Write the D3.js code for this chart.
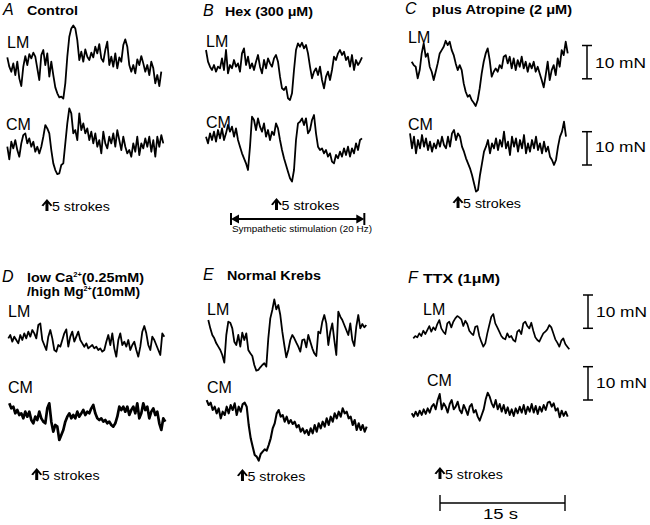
<!DOCTYPE html>
<html>
<head>
<meta charset="utf-8">
<script src="https://cdn.jsdelivr.net/npm/d3@7"></script>
<style>
  body { margin: 0; background: #fff; }
  text { font-family: "Liberation Sans", Arial, sans-serif; fill: #000; }
</style>
</head>
<body>
<svg id="fig" width="650" height="525"></svg>
<script>
const dt = 0.24;

// tension traces, mN above each trace's lowest point
const aLM = [12.8, 10, 8.5, 11, 7.5, 11.5, 6.5, 4.2, 10, 13.2,
  10.5, 13.8, 12.5, 14.2, 13, 9.5, 6, 13.5, 15, 10.5,
  14, 7, 11.5, 7.5, 3.8, 2, 0.8, 1, 0.4, 5,
  13, 19, 21.5, 22.4, 21.5, 18, 12, 14.5, 11.5, 15.2,
  13, 12, 14.2, 12.8, 16, 14, 16.8, 12.5, 11.5, 15,
  17.5, 10.5, 13, 10, 14, 9.5, 12.8, 11.5, 16.5, 18.2,
  16, 10.5, 8.5, 10.5, 8, 12.2, 10.5, 13.2, 11, 8.5,
  10.5, 7.5, 11.5, 9.5, 5, 7.5, 4.2, 8.5];
const aCM = [9, 5.2, 10.5, 8.5, 11, 8, 6, 10, 12.5, 13,
  10, 11.5, 9, 10.5, 7.5, 9, 7, 9, 12, 15.5,
  14.5, 13, 8, 4, 2, 0.8, 1, 3.5, 4, 10,
  16, 20.5, 19, 13, 14, 11, 19, 14, 16, 13,
  14.5, 11, 13.5, 10, 13, 9, 11, 7, 13.5, 10,
  8.5, 12, 10, 13, 9, 14, 11, 8, 12, 9,
  7, 8, 6, 10, 7.5, 12, 6.5, 10, 8.5, 11.5,
  9, 12, 7.5, 11, 6, 12, 9, 12.5, 10];
const bLM = [16, 12.5, 11, 10, 11.5, 9.5, 11, 10.5, 13.5, 10,
  16, 9, 11.5, 10.5, 13, 11, 12, 9.5, 15, 16.5,
  11.5, 14, 10.5, 12, 10, 12.5, 14.5, 11, 9, 13,
  10.5, 13.5, 12, 11, 13.5, 14.5, 12.5, 8, 4.5, 4,
  5, 1.5, 1, 3, 10, 16, 18, 17, 18.2, 16.5,
  17.5, 15, 11, 7.5, 9.5, 10.5, 8.5, 11, 7, 4.5,
  8, 9.5, 7, 10, 14, 13, 15, 16, 14.5, 15.5,
  13, 14, 11, 14.5, 10, 13, 11.5, 12.5, 13.8];
const bCM = [14, 12, 15, 13, 15.5, 12.5, 16, 13.5, 16.5, 13,
  15, 17.5, 15.5, 17, 14, 16.5, 13, 11, 9, 7.5,
  6, 4, 11, 20, 19, 16, 19.5, 17, 15.5, 18,
  14, 16, 13, 15.5, 14.5, 18, 16.5, 13, 10, 7.5,
  5.5, 3.5, 1.5, 0.5, 4, 13, 18, 18.5, 19.5, 17.5,
  19.5, 15, 16, 19, 20.5, 15, 11, 10, 10.5, 9,
  10, 8, 9, 6.5, 6, 8.5, 7.5, 9.5, 8, 10.5,
  8.5, 11, 8, 10.5, 9, 12, 10, 13, 13.5];
const cLM = [13.5, 12.5, 12, 8.5, 11, 16, 19, 15, 16, 12,
  10.5, 8, 10.5, 13, 16, 17, 18, 19.8, 18.5, 19.5,
  17, 15.5, 13, 11, 12.5, 11, 7, 4.5, 3, 3.5,
  2, 1.2, 0.2, 2, 5.5, 10, 13.5, 16, 17.5, 14,
  9, 10.5, 11.5, 10.5, 12.5, 11.5, 15, 15.5, 13, 15,
  11.5, 14.5, 11, 14, 12, 15, 11.5, 13.5, 10.5, 13,
  11.5, 13.5, 10.5, 12, 10, 8, 5.8, 9.5, 13.5, 8,
  11, 12.5, 9.5, 14.5, 12, 17, 15.5, 19.5, 16];
const cCM = [18, 13.5, 17, 12, 16, 13.5, 17.5, 14, 16.5, 13,
  15.5, 12.5, 15, 13.5, 16, 14, 17, 14.5, 13.5, 17,
  14, 18, 19, 16, 18, 17, 14, 12.5, 10.5, 9,
  7.5, 5.5, 3, 0.5, 1, 5.5, 9, 12.5, 14, 16,
  12, 15, 13.5, 16.5, 13, 16, 14, 18.5, 13.5, 15.5,
  11.5, 17, 14, 16.5, 12.5, 16, 13.5, 17.5, 12, 15,
  12.5, 16, 13.5, 17, 13, 15, 12, 15.5, 12.5, 14,
  11, 10, 8.5, 10, 14, 17, 18.5, 21.5, 17];
const dLM = [6.5, 7.5, 5.5, 7, 6, 5, 7.5, 6, 8, 6.5,
  8.5, 7, 9, 8, 6.5, 10.5, 11, 6, 4.5, 3,
  7, 9, 6.5, 3, 2.5, 4.5, 4, 6, 8, 9.2,
  4, 7, 8.5, 5.5, 7, 8.5, 6, 5, 4, 5,
  3.5, 4, 4.5, 3.5, 4, 3, 3.5, 2.5, 3, 5.5,
  7.5, 4.5, 8, 3.5, 1, 6, 8, 4.5, 5.5, 4,
  6, 3, 4.5, 5.5, 3, 1, 4, 8.5, 10.2, 8,
  4.5, 3, 7, 6, 4.5, 3, 1.5, 8, 7];
const dCM = [12, 10.5, 11, 9, 10, 8.5, 9, 7.5, 9.5, 8,
  9.5, 7, 6, 8, 7, 9.5, 7.5, 6.5, 6, 10.5,
  12, 6.5, 3.5, 5.5, 5, 1, 2.5, 4, 6.5, 8,
  9, 7.5, 8.5, 7.5, 9.5, 8, 9, 10, 8.5, 9.5,
  9, 10.5, 11.5, 9, 7.5, 7, 7.5, 6.5, 7, 6,
  6.5, 5.5, 5, 6, 8, 11, 10, 11, 9.5, 11,
  8.5, 10, 11, 9, 12, 7.5, 9, 12, 10, 11,
  7.5, 9.5, 10.5, 8.5, 9.5, 6, 4, 7.5, 6.5];
const eLM = [16, 13.5, 11.5, 10.5, 9, 8, 7, 5.5, 3.2, 11.5,
  15.5, 15.2, 13.5, 9.5, 8.5, 11.5, 8, 12.2, 10, 12,
  7, 6, 5.2, 2.5, 0.8, 1, 1.8, 2.5, 3, 2,
  10.5, 16.5, 19, 22.2, 19.2, 20.5, 17.5, 12.5, 8.5, 4.8,
  7, 10, 11.5, 10.5, 9.2, 8, 6.5, 10, 10.2, 7.8,
  11.5, 9.5, 7.5, 6, 5.2, 12.5, 12, 15.5, 17.5, 15,
  8.5, 12.5, 15, 10, 5.5, 18.5, 17, 16, 14.5, 13,
  11.5, 15, 10, 8.2, 14, 17.5, 13.5, 14.8, 13.8, 14.5];
const eCM = [19, 17.5, 18.2, 16, 17, 15, 16.5, 13.5, 15.5, 14.5,
  17, 15, 17.5, 16, 18, 14.5, 17, 15.5, 17.8, 18.2,
  17, 11.5, 7.5, 5, 2.5, 2, 0.8, 2.8, 3.5, 4.2,
  3.8, 5.5, 7.5, 10.5, 12, 15, 16, 14, 14.5, 12.5,
  14, 12, 13, 11.8, 12.5, 10.8, 11.5, 9.5, 10.5, 9,
  10, 8.5, 10.5, 9, 11.5, 9.5, 12, 10.5, 12.5, 11,
  13.5, 11.5, 14, 12.5, 15, 13.5, 15.5, 14, 16.5, 15,
  15.5, 13.5, 14, 11.5, 13, 10, 12, 10, 11.5, 9.5, 11];
const fLM = [3.5, 4.2, 3.8, 5, 4.2, 5.8, 4.8, 6, 7.2, 5.5,
  6.8, 6, 7.8, 9, 6.5, 5.5, 4.8, 8, 8.5, 6.8,
  8.5, 9.5, 10.2, 9.8, 9.2, 7.2, 8.8, 7.8, 5.8, 5,
  4.5, 7, 7.2, 4.2, 2.5, 1, 2, 5, 7.5, 10,
  10.8, 8, 6.8, 5.5, 4.2, 3.5, 3.2, 5, 3.8, 4.2,
  3, 2.5, 5.5, 6, 4.8, 8, 8.5, 7.2, 6.5, 8.2,
  5.8, 3.8, 3, 2.5, 3.8, 5, 5.5, 6.2, 7.5, 6.8,
  5, 3.2, 2.2, 1, 2.8, 3.5, 1.8, 1, 0.2];
const fCM = [3, 2, 3.5, 2.2, 3.8, 2.5, 4.2, 2.8, 4.5, 3.2,
  5, 5.8, 4.2, 7, 8.8, 4.2, 6, 5, 3.2, 5.8,
  7, 4.2, 5, 6.5, 4, 3, 5.5, 4.2, 2.5, 5,
  5.8, 3.2, 4, 2, 0.8, 2.5, 4.2, 7.2, 9.2, 8,
  6, 4.8, 7, 4.2, 5.8, 3.5, 5.5, 3, 4.8, 2.5,
  4.2, 2.2, 4.5, 3, 5, 3.2, 5.5, 2.8, 5, 3.5,
  5.8, 3.2, 5.2, 2.8, 5, 3.5, 5.5, 4, 6.2, 6.5,
  5, 6, 3.8, 4.5, 1.8, 3.8, 2.2, 3.5, 2];

// stimulus (5 strokes) onset, s from start of trace
const stimTimes = [4.76, 8.46, 5.56, 3.41, 4.1, 3.2];
// sympathetic stimulation in B (s)
const sympStim = [3.0, 19.0];
// scale bars
const forceBar = 10;  // mN
const timeBar = 15;   // s

const pxPerSec = 125 / 15;
const pxPerMN = 33.3 / 10;

const panels = [
  { letter: "A", lx: 3, ly: 15, title: ["Control"], tx: 27, ty: [15], tw: [51],
    traces: [
      { name: "LM", data: aLM, x0: 7.3, base: 100, lab: [7, 48], w: 1.8 },
      { name: "CM", data: aCM, x0: 7.3, base: 176.7, lab: [6, 130], w: 1.8 }],
    stimY: 211 },
  { letter: "B", lx: 203, ly: 16, title: ["Hex (300 \u03bcM)"], tx: 225, ty: [16], tw: [88],
    traces: [
      { name: "LM", data: bLM, x0: 206, base: 103.3, lab: [206, 47], w: 1.8 },
      { name: "CM", data: bCM, x0: 206, base: 183.3, lab: [206, 128], w: 1.8 }],
    stimY: 210 },
  { letter: "C", lx: 405, ly: 14, title: ["plus Atropine (2 \u03bcM)"], tx: 432, ty: [14], tw: [140],
    traces: [
      { name: "LM", data: cLM, x0: 411.7, base: 106.7, lab: [408, 43], w: 1.8, bar: [587, 45.5, 68] },
      { name: "CM", data: cCM, x0: 410, base: 193.3, lab: [408, 130], w: 1.8, bar: [587, 131.7, 152] }],
    stimY: 208 },
  { letter: "D", lx: 2, ly: 282, title: [["low Ca", "2+", "(0.25mM)"], ["/high Mg", "2+", "(10mM)"]],
    tx: 27, ty: [281.5, 296], tw: [117, 113],
    traces: [
      { name: "LM", data: dLM, x0: 8.3, base: 360, lab: [8, 317], w: 1.8 },
      { name: "CM", data: dCM, x0: 9.3, base: 443.3, lab: [8, 393], w: 2.7 }],
    stimY: 480 },
  { letter: "E", lx: 203, ly: 280, title: ["Normal Krebs"], tx: 227, ty: [280], tw: [94],
    traces: [
      { name: "LM", data: eLM, x0: 208.3, base: 373.3, lab: [207, 315], w: 1.8 },
      { name: "CM", data: eCM, x0: 206.7, base: 463.3, lab: [207, 393], w: 2.1 }],
    stimY: 481 },
  { letter: "F", lx: 408, ly: 283, title: ["TTX (1\u03bcM)"], tx: 423, ty: [283], tw: [77],
    traces: [
      { name: "LM", data: fLM, x0: 413.3, base: 350, lab: [423, 315], w: 1.7, bar: [588, 295, 317] },
      { name: "CM", data: fCM, x0: 411.7, base: 423.3, lab: [427, 386], w: 1.9, bar: [588, 366.7, 388] }],
    stimY: 479 }
];

const svg = d3.select("#fig");

// bold upward arrow marking the stimulus
const drawArrow = (g, cx, bottom) => {
  const top = bottom - 12;
  g.append("path")
    .attr("d", `M ${cx} ${top} L ${cx + 5.5} ${top + 6.5} L ${cx + 3.6} ${top + 7.2} L ${cx + 1.5} ${top + 4.6}
                L ${cx + 1.5} ${bottom} L ${cx - 1.5} ${bottom} L ${cx - 1.5} ${top + 4.6}
                L ${cx - 3.6} ${top + 7.2} L ${cx - 5.5} ${top + 6.5} Z`)
    .attr("fill", "#000");
};

panels.forEach((p, i) => {
  const g = svg.append("g");

  g.append("text").attr("x", p.lx).attr("y", p.ly)
    .attr("font-size", 16).attr("font-style", "italic").text(p.letter);

  p.title.forEach((t, j) => {
    const el = g.append("text").attr("x", p.tx).attr("y", p.ty[j])
      .attr("font-size", 13.5).attr("font-weight", "bold")
      .attr("textLength", p.tw[j]).attr("lengthAdjust", "spacingAndGlyphs");
    if (typeof t === "string") {
      el.text(t);
    } else {
      el.append("tspan").text(t[0]);
      el.append("tspan").attr("dy", -5).attr("font-size", 7).text(t[1]);
      el.append("tspan").attr("dy", 5).text(t[2]);
    }
  });

  let xLM;
  p.traces.forEach((tr, k) => {
    const x = d3.scaleLinear().domain([0, timeBar]).range([tr.x0, tr.x0 + timeBar * pxPerSec]);
    const y = d3.scaleLinear().domain([0, forceBar]).range([tr.base, tr.base - forceBar * pxPerMN]);
    if (k === 0) xLM = x;

    const line = d3.line().x((d, j) => x(j * dt)).y(d => y(d));
    g.append("path").datum(tr.data)
      .attr("d", line)
      .attr("fill", "none").attr("stroke", "#000")
      .attr("stroke-width", tr.w).attr("stroke-linejoin", "round");

    g.append("text").attr("x", tr.lab[0]).attr("y", tr.lab[1])
      .attr("font-size", 16).text(tr.name);

    if (tr.bar) {
      const [bx, by, ty] = tr.bar;
      const h = forceBar * pxPerMN;
      const bar = g.append("g").attr("stroke", "#000").attr("stroke-width", 1.5);
      bar.append("line").attr("x1", bx).attr("x2", bx).attr("y1", by).attr("y2", by + h);
      bar.append("line").attr("x1", bx - 5).attr("x2", bx + 5).attr("y1", by).attr("y2", by);
      bar.append("line").attr("x1", bx - 5).attr("x2", bx + 5).attr("y1", by + h).attr("y2", by + h);
      g.append("text").attr("x", bx + 8).attr("y", ty)
        .attr("font-size", 15).attr("textLength", 51).attr("lengthAdjust", "spacingAndGlyphs")
        .text(`${forceBar} mN`);
    }
  });

  // 5 strokes marker
  const ax = xLM(stimTimes[i]);
  drawArrow(g, ax, p.stimY);
  g.append("text").attr("x", ax + 5).attr("y", p.stimY)
    .attr("font-size", 13.5).attr("textLength", 58).attr("lengthAdjust", "spacingAndGlyphs")
    .text("5 strokes");

  // sympathetic stimulation bar in B
  if (p.letter === "B") {
    const x1 = xLM(sympStim[0]), x2 = xLM(sympStim[1]), yy = 219;
    const s = g.append("g");
    s.append("line").attr("x1", x1 + 3).attr("x2", x2 - 3).attr("y1", yy).attr("y2", yy)
      .attr("stroke", "#000").attr("stroke-width", 2.2);
    [[x1, 1], [x2, -1]].forEach(([xe, dir]) => {
      s.append("line").attr("x1", xe).attr("x2", xe).attr("y1", yy - 6).attr("y2", yy + 6)
        .attr("stroke", "#000").attr("stroke-width", 2);
      s.append("path")
        .attr("d", `M ${xe} ${yy} L ${xe + dir * 8} ${yy - 4.5} L ${xe + dir * 8} ${yy + 4.5} Z`)
        .attr("fill", "#000");
    });
    g.append("text").attr("x", x1 + 1).attr("y", 232)
      .attr("font-size", 9.5).attr("textLength", 140).attr("lengthAdjust", "spacingAndGlyphs")
      .text("Sympathetic stimulation (20 Hz)");
  }

  // time scale bar under F
  if (p.letter === "F") {
    const x1 = 440, x2 = x1 + timeBar * pxPerSec, yy = 503;
    const t = g.append("g").attr("stroke", "#000").attr("stroke-width", 1.4);
    t.append("line").attr("x1", x1).attr("x2", x2).attr("y1", yy).attr("y2", yy);
    t.append("line").attr("x1", x1).attr("x2", x1).attr("y1", yy - 8).attr("y2", yy + 8);
    t.append("line").attr("x1", x2).attr("x2", x2).attr("y1", yy - 8).attr("y2", yy + 8);
    g.append("text").attr("x", 483).attr("y", 519)
      .attr("font-size", 14).attr("textLength", 35).attr("lengthAdjust", "spacingAndGlyphs")
      .text(`${timeBar} s`);
  }
});
</script>
</body>
</html>
